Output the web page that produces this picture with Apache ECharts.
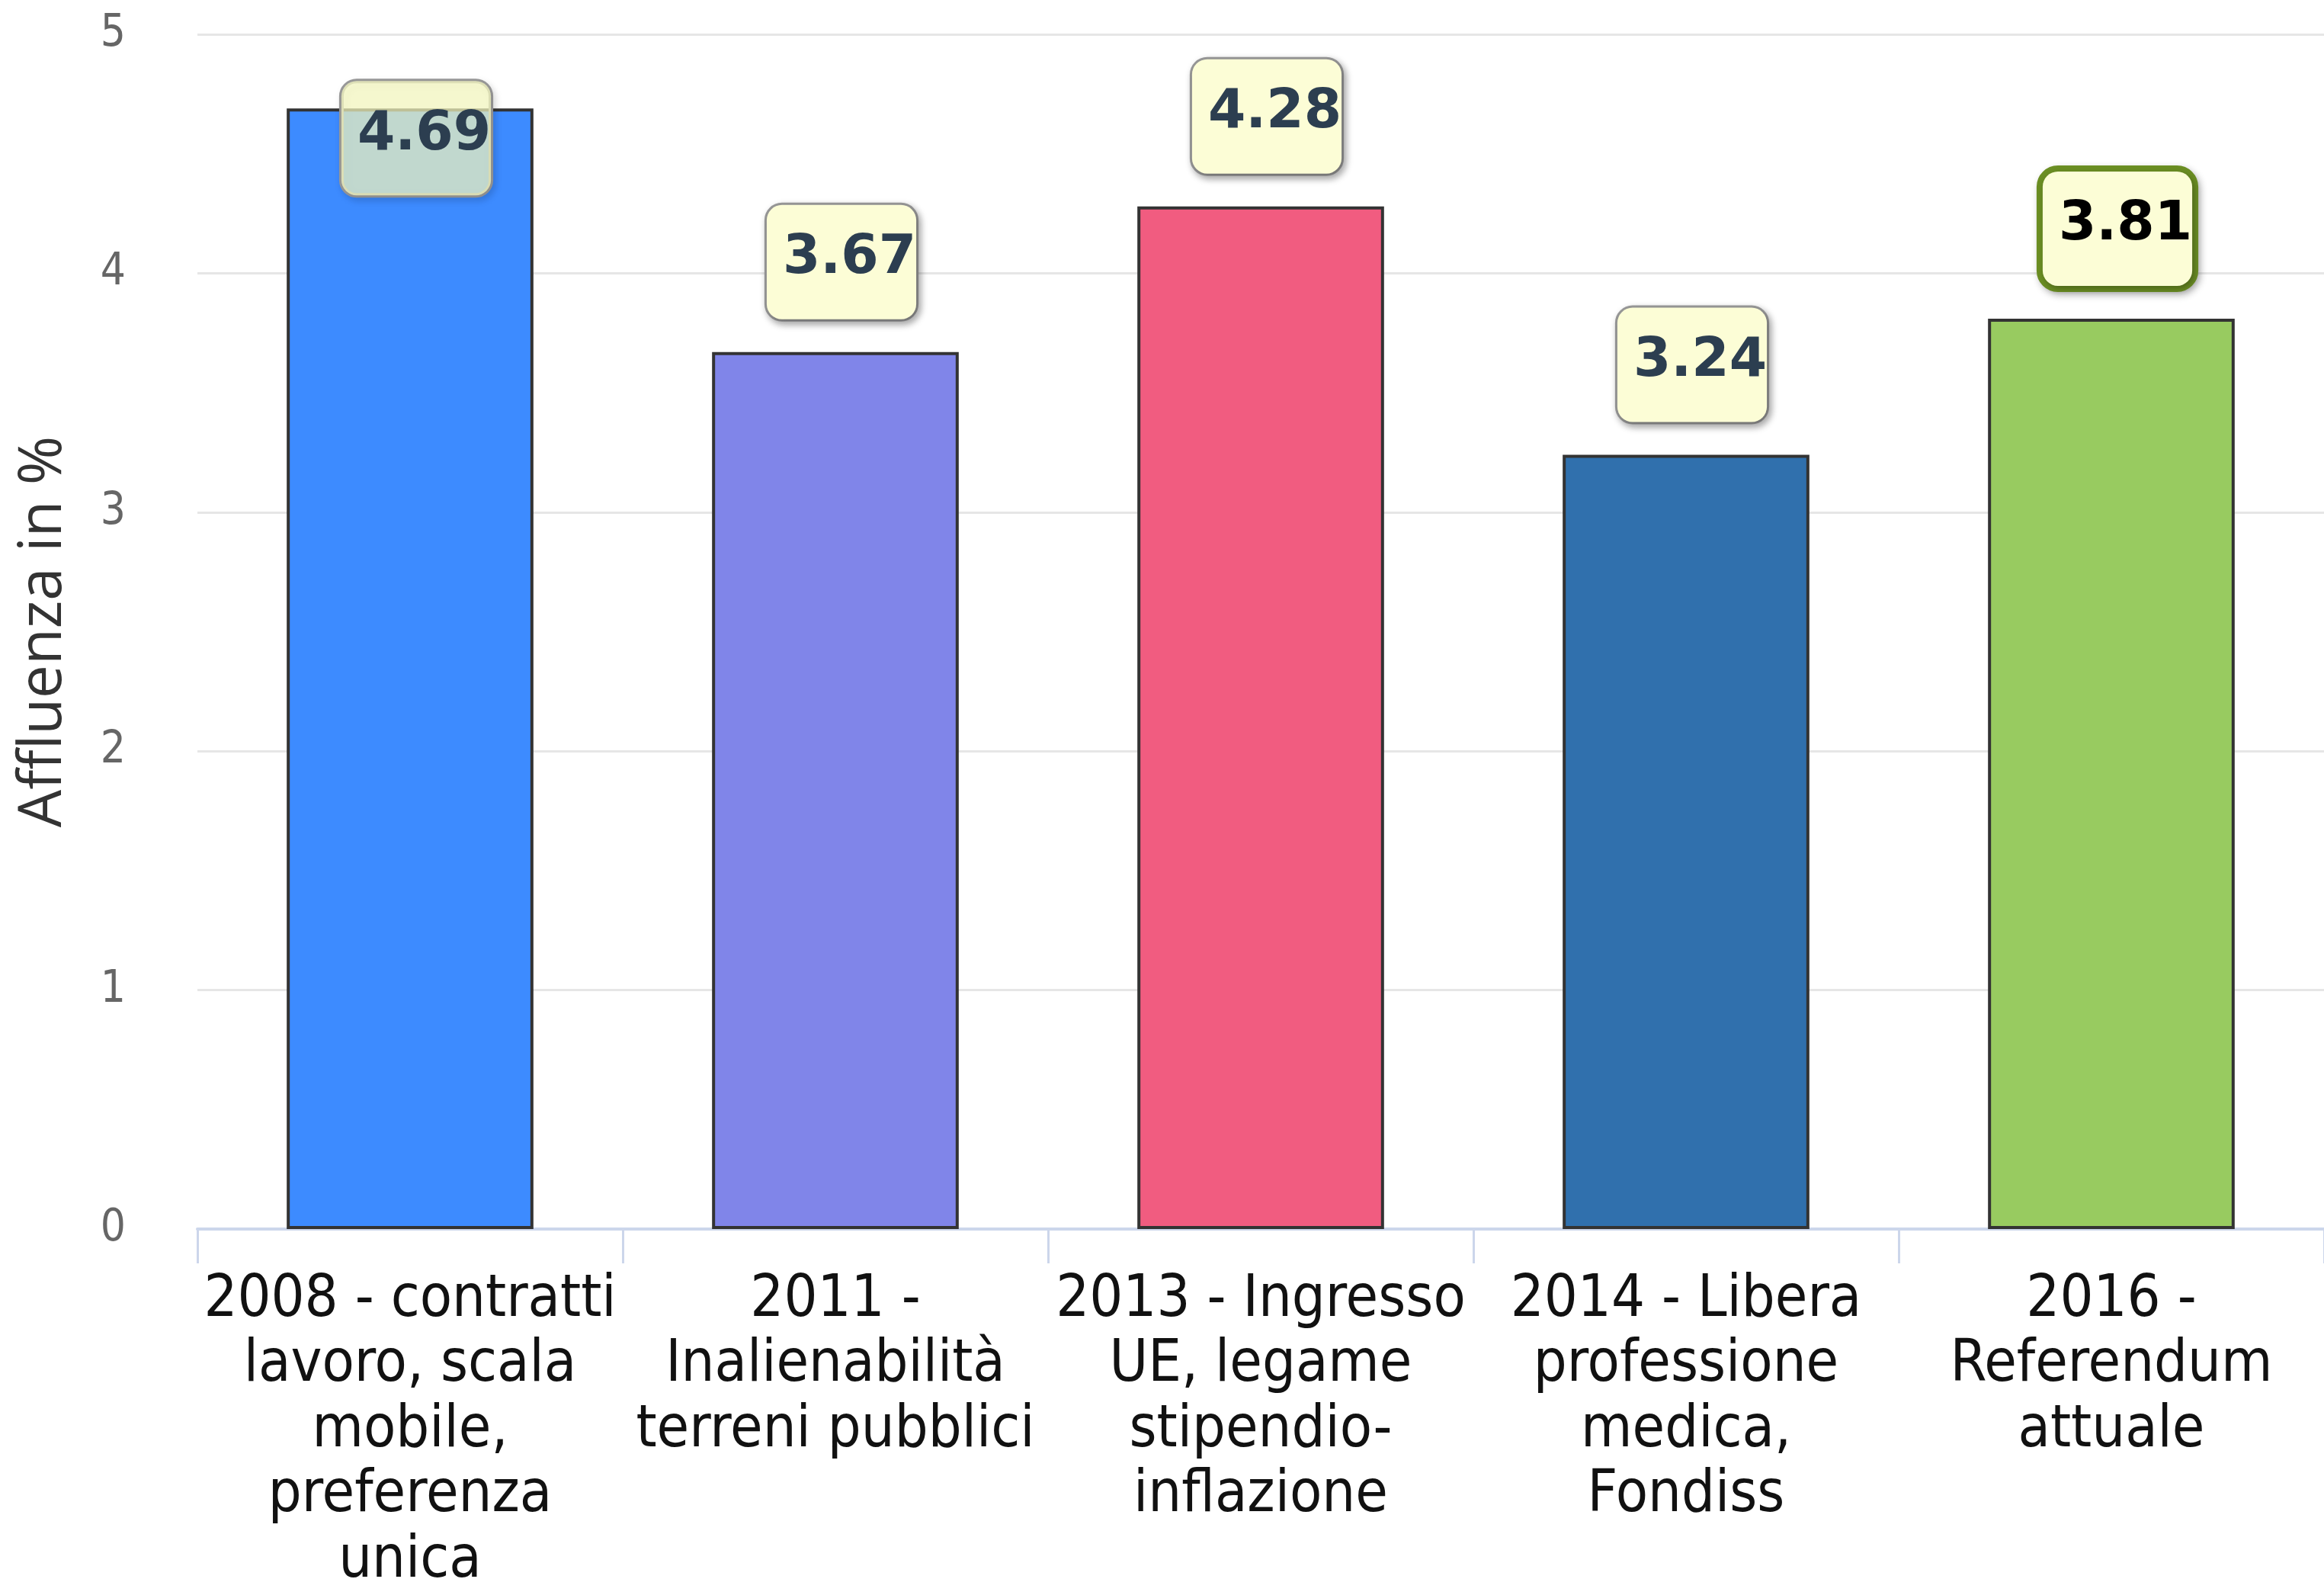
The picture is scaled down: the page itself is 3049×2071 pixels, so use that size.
<!DOCTYPE html>
<html>
<head>
<meta charset="utf-8">
<script src="https://cdn.jsdelivr.net/npm/echarts@6/dist/echarts.min.js"></script>
<style>
html,body{margin:0;padding:0;background:#fff;}
#chart{width:3049px;height:2071px;}
</style>
</head>
<body>
<div id="chart"></div>
<script>
const categories = [
  "2008 - contratti\nlavoro, scala\nmobile,\npreferenza\nunica",
  "2011 -\nInalienabilità\nterreni pubblici",
  "2013 - Ingresso\nUE, legame\nstipendio-\ninflazione",
  "2014 - Libera\nprofessione\nmedica,\nFondiss",
  "2016 -\nReferendum\nattuale"
];
const values = [4.69, 3.67, 4.28, 3.24, 3.81];
const barColors = ["#3d8bff", "#8085e9", "#f15c80", "#3070ad", "#98cb60"];
const yTicks = [0, 1, 2, 3, 4, 5];
const yTitle = "Affluenza in %";

const baseLabel = {
  show: true,
  position: 'top',
  distance: 43,
  offset: [8, 0],
  fontFamily: 'DejaVu Sans',
  fontWeight: 'bold',
  fontSize: 71,
  lineHeight: 70,
  color: '#2c3e50',
  backgroundColor: '#fcfdd6',
  borderColor: '#999999',
  borderWidth: 3,
  borderRadius: 20,
  padding: [36, 0, 44, 21],
  shadowColor: 'rgba(0,0,0,0.3)',
  shadowBlur: 10,
  shadowOffsetX: 3,
  shadowOffsetY: 4,
  formatter: p => p.value.toFixed(2)
};

const data = values.map((v, i) => {
  const item = { value: v, itemStyle: { color: barColors[i] } };
  if (i === 0) {
    item.label = {
      position: 'insideTop', distance: -36,
      backgroundColor: 'rgba(252,255,197,0.7)',
      shadowColor: 'rgba(0,0,0,0.15)'
    };
  }
  if (i === values.length - 1) {
    item.label = { borderColor: '#6b8e23', borderWidth: 8, color: '#000000' };
  }
  return item;
});

const chart = echarts.init(document.getElementById('chart'), null, { renderer: 'canvas' });
chart.setOption({
  animation: false,
  backgroundColor: '#ffffff',
  grid: { left: 259, right: 0, top: 45, bottom: 459, containLabel: false, outerBoundsMode: 'none' },
  xAxis: {
    type: 'category',
    data: categories,
    boundaryGap: true,
    axisLine: { show: true, lineStyle: { color: '#ccd6eb', width: 4 } },
    axisTick: { show: true, length: 45, lineStyle: { color: '#ccd6eb', width: 3 } },
    axisLabel: {
      interval: 0,
      margin: 51,
      fontFamily: 'DejaVu Sans Condensed',
      fontSize: 77,
      lineHeight: 85.5,
      color: '#111111',
      align: 'center'
    },
    splitLine: { show: false }
  },
  yAxis: {
    type: 'value',
    min: yTicks[0],
    max: yTicks[yTicks.length - 1],
    interval: 1,
    name: yTitle,
    nameLocation: 'middle',
    nameRotate: 90,
    nameGap: 162,
    nameTextStyle: { fontFamily: 'Open Sans', fontSize: 78, color: '#333333' },
    axisLine: { show: false },
    axisTick: { show: false },
    axisLabel: {
      margin: 94,
      fontFamily: 'DejaVu Sans Condensed',
      fontSize: 58,
      color: '#666666'
    },
    splitLine: { show: true, lineStyle: { color: '#e6e6e6', width: 3 } }
  },
  series: [{
    type: 'bar',
    data: data,
    barWidth: '58%',
    itemStyle: { borderColor: '#333333', borderWidth: 4 },
    label: baseLabel
  }]
});
</script>
</body>
</html>
